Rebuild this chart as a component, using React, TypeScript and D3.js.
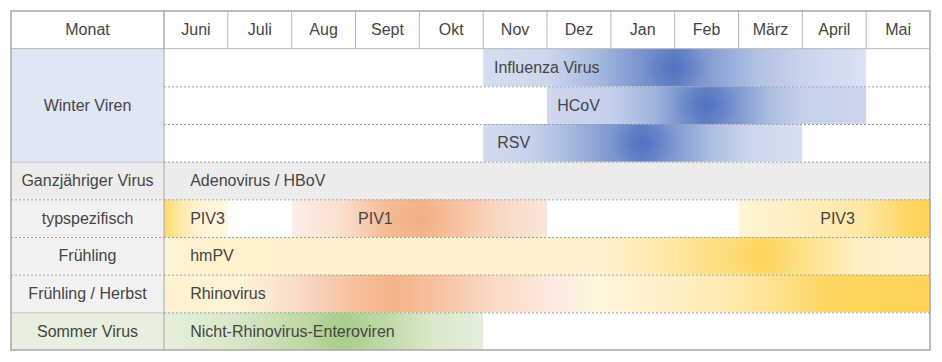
import React from "react";
import * as d3 from "d3";

const months = ["Juni", "Juli", "Aug", "Sept", "Okt", "Nov", "Dez", "Jan", "Feb", "März", "April", "Mai"];
const groupNames = ["Winter Viren", "Ganzjähriger Virus", "typspezifisch", "Frühling", "Frühling / Herbst", "Sommer Virus"];
const groupRowCounts = [3, 1, 1, 1, 1, 1];

// stops: [month position, hue, intensity 0..1]
const bars = [
  { row: 0, text: "Influenza Virus", start: 5, end: 11, labelAt: 5.17,
    stops: [[5, "b", 0.1], [6.0, "b", 0.15], [6.8, "b", 0.4], [7.5, "b", 0.7], [8.0, "b", 0.85], [8.6, "b", 0.6], [9.3, "b", 0.32], [10, "b", 0.18], [11, "b", 0.06]] },
  { row: 1, text: "HCoV", start: 6, end: 11, labelAt: 6.16,
    stops: [[6, "b", 0.15], [7.0, "b", 0.2], [7.7, "b", 0.45], [8.1, "b", 0.7], [8.5, "b", 0.85], [9.0, "b", 0.65], [9.5, "b", 0.35], [10, "b", 0.2], [11, "b", 0.15]] },
  { row: 2, text: "RSV", start: 5, end: 10, labelAt: 5.22,
    stops: [[5, "b", 0.12], [5.8, "b", 0.2], [6.5, "b", 0.45], [7.1, "b", 0.7], [7.5, "b", 0.85], [8.0, "b", 0.65], [8.6, "b", 0.35], [9.2, "b", 0.15], [10, "b", 0.08]] },
  { row: 4, text: "PIV3", start: 0, end: 1, labelAt: 0.41,
    stops: [[0, "y", 0.85], [0.3, "y", 0.4], [0.6, "y", 0.12], [1, "y", 0.08]] },
  { row: 4, text: "PIV1", start: 2, end: 6, labelAt: 3.04,
    stops: [[2, "o", 0.05], [2.8, "o", 0.3], [3.5, "o", 0.8], [4.0, "o", 0.9], [4.6, "o", 0.7], [5.2, "o", 0.4], [6, "o", 0.2]] },
  { row: 4, text: "PIV3", start: 9, end: 12, labelAt: 10.28,
    stops: [[9, "y", 0.15], [10, "y", 0.3], [11, "y", 0.5], [11.6, "y", 0.9], [12, "y", 1]] },
  { row: 5, text: "hmPV", start: 0, end: 12, labelAt: 0.41,
    stops: [[0, "y", 0.1], [0.5, "y", 0.2], [7, "y", 0.22], [7.8, "y", 0.45], [8.6, "y", 0.7], [9.4, "y", 0.9], [10.1, "y", 0.65], [10.9, "y", 0.25], [12, "y", 0.2]] },
  { row: 6, text: "Rhinovirus", start: 0, end: 12, labelAt: 0.41,
    stops: [[0, "y", 0.2], [1.2, "y", 0.15], [2.0, "o", 0.3], [3.0, "o", 0.75], [3.6, "o", 0.9], [4.3, "o", 0.7], [5.2, "o", 0.35], [6.2, "o", 0.1], [6.8, "y", 0.1], [7.5, "y", 0.2], [8.6, "y", 0.35], [9.5, "y", 0.6], [10.4, "y", 0.95], [12, "y", 1]] },
  { row: 7, text: "Nicht-Rhinovirus-Enteroviren", start: 0, end: 5, labelAt: 0.41,
    stops: [[0, "g", 0.15], [1, "g", 0.3], [2, "g", 0.6], [2.8, "g", 0.9], [3.4, "g", 0.7], [4.2, "g", 0.3], [5, "g", 0.15]] },
];
const plainRows = [{ row: 3, text: "Adenovirus / HBoV", labelAt: 0.41 }];

const hues = {
  b: d3.interpolateRgb("#e4eaf6", "#4a6ebd"),
  y: d3.interpolateRgb("#fffaeb", "#fdd458"),
  o: d3.interpolateRgb("#fdf3ee", "#f3ad7f"),
  g: d3.interpolateRgb("#f0f5ea", "#a5cb83"),
};
const groupFills = ["#dfe6f4", "#ececec", "#f2f2f2", "#f2f2f2", "#f2f2f2", "#e7f0de"];

const W = 942, H = 362;
const left = 11, labelRight = 164, right = 930, top = 11, bottom = 350;
const font = "'Liberation Sans', Arial, sans-serif";
const textColor = "#454545";

export default function App() {
  const x = d3.scaleLinear().domain([0, 12]).range([labelRight, right]);
  const xm = d3.scaleBand().domain(months).range([labelRight, right]);
  const rowIds = d3.range(-1, 8);
  const y = d3.scaleBand().domain(rowIds).range([top, bottom]);
  const rh = y.bandwidth();

  let acc = 0;
  const groups = groupNames.map((name, i) => {
    const g = { name, first: acc, count: groupRowCounts[i], fill: groupFills[i] };
    acc += groupRowCounts[i];
    return g;
  });

  // soft peak spot at the strongest interior stop of each bar
  const spots = bars.map((b) => {
    const peak = b.stops.reduce((a, s) => (s[2] > a[2] ? s : a));
    if (peak[0] <= b.start || peak[0] >= b.end) return null;
    return { cx: x(peak[0]), color: hues[peak[1]](1) };
  });

  return (
    <svg width={W} height={H} style={{ position: "absolute", left: 0, top: 0, background: "#fff" }}>
      <defs>
        {bars.map((b, i) => (
          <linearGradient key={i} id={`g${i}`} gradientUnits="userSpaceOnUse" x1={x(b.start)} x2={x(b.end)} y1={0} y2={0}>
            {b.stops.map(([m, h, t], j) => (
              <stop key={j} offset={(m - b.start) / (b.end - b.start)} stopColor={hues[h](t)} />
            ))}
          </linearGradient>
        ))}
        {spots.map((s, i) => s && (
          <radialGradient key={i} id={`s${i}`}>
            <stop offset={0} stopColor={s.color} stopOpacity={0.75} />
            <stop offset={0.5} stopColor={s.color} stopOpacity={0.3} />
            <stop offset={1} stopColor={s.color} stopOpacity={0} />
          </radialGradient>
        ))}
        {bars.map((b, i) => (
          <clipPath key={i} id={`c${i}`}>
            <rect x={x(b.start)} y={y(b.row)} width={x(b.end) - x(b.start)} height={rh} />
          </clipPath>
        ))}
      </defs>

      {/* group label cells */}
      {groups.map((g, i) => (
        <g key={i}>
          <rect x={left} y={y(g.first)} width={labelRight - left} height={rh * g.count} fill={g.fill} />
          <text x={(left + labelRight) / 2} y={y(g.first) + (rh * g.count) / 2} dy="0.35em" textAnchor="middle"
            fontFamily={font} fontSize={16} fill={textColor}>{g.name}</text>
        </g>
      ))}

      {/* full-width plain rows */}
      {plainRows.map((p, i) => (
        <g key={i}>
          <rect x={labelRight} y={y(p.row)} width={right - labelRight} height={rh} fill="#ececec" />
          <text x={x(p.labelAt)} y={y(p.row) + rh / 2} dy="0.35em" fontFamily={font} fontSize={16} fill={textColor}>{p.text}</text>
        </g>
      ))}

      {/* virus bars */}
      {bars.map((b, i) => (
        <g key={i}>
          <rect x={x(b.start)} y={y(b.row)} width={x(b.end) - x(b.start)} height={rh} fill={`url(#g${i})`} />
          {spots[i] && (
            <ellipse clipPath={`url(#c${i})`} cx={spots[i].cx} cy={y(b.row) + rh / 2} rx={34} ry={rh * 0.62} fill={`url(#s${i})`} />
          )}
          <text x={x(b.labelAt)} y={y(b.row) + rh / 2} dy="0.35em" fontFamily={font} fontSize={16} fill={textColor}>{b.text}</text>
        </g>
      ))}

      {/* header */}
      <text x={(left + labelRight) / 2} y={y(-1) + rh / 2} dy="0.35em" textAnchor="middle" fontFamily={font} fontSize={16} fill={textColor}>Monat</text>
      {months.map((m) => (
        <g key={m}>
          <text x={xm(m) + xm.bandwidth() / 2} y={y(-1) + rh / 2} dy="0.35em" textAnchor="middle" fontFamily={font} fontSize={16} fill={textColor}>{m}</text>
          <line x1={xm(m)} x2={xm(m)} y1={top} y2={y(0)} stroke="#b8b8b8" />
        </g>
      ))}
      <line x1={left} x2={right} y1={y(0)} y2={y(0)} stroke="#b8b8b8" />

      {/* row separators */}
      {d3.range(1, 8).map((r) => {
        const groupStart = groups.some((g) => g.first === r);
        const solidLabel = r === 3 || r === 7;
        return (
          <g key={r}>
            <line x1={labelRight} x2={right} y1={y(r) + 0.5} y2={y(r) + 0.5} stroke="#a0a0a0" strokeDasharray="2,2" />
            {groupStart && (
              <line x1={left} x2={labelRight} y1={y(r) + 0.5} y2={y(r) + 0.5} stroke={solidLabel ? "#c4c4c4" : "#a0a0a0"}
                strokeDasharray={solidLabel ? null : "2,2"} />
            )}
          </g>
        );
      })}

      <line x1={labelRight} x2={labelRight} y1={top} y2={bottom} stroke="#a8a8a8" />
      <rect x={left} y={top} width={right - left} height={bottom - top} fill="none" stroke="#a8a8a8" strokeWidth={1.5} />
    </svg>
  );
}
